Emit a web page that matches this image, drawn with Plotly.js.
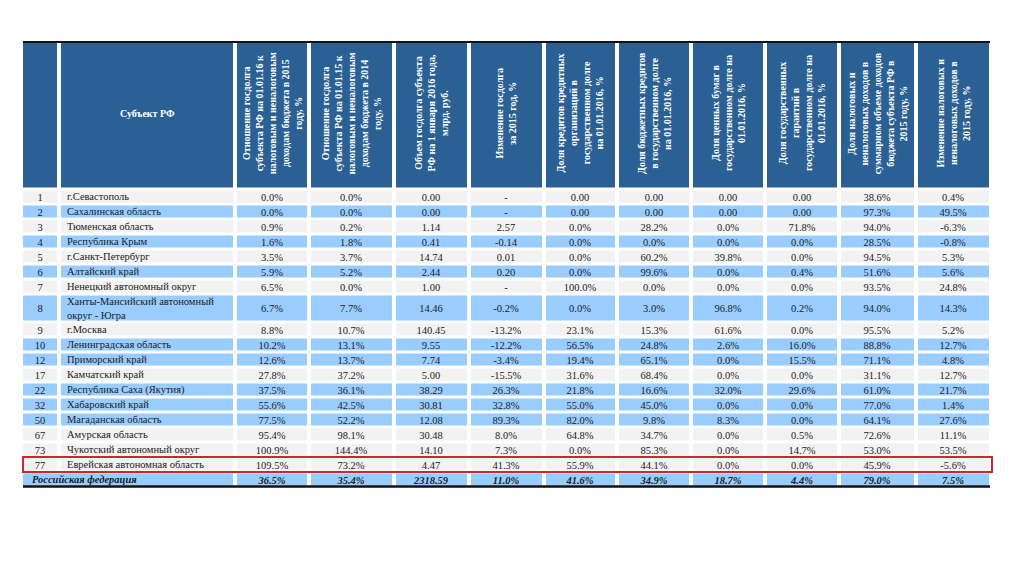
<!DOCTYPE html>
<html>
<head>
<meta charset="utf-8">
<script src="https://cdn.plot.ly/plotly-3.0.1.min.js"></script>
<style>html,body{margin:0;padding:0;background:#fff;}#chart{width:1024px;height:579px;}</style>
</head>
<body>
<div id="chart"></div>
<script>
// ---------- DATA ----------
const headers = [
  "",
  "Субъект РФ",
  "Отношение госдолга<br>субъекта РФ на 01.01.16 к<br>налоговым и неналоговым<br>доходам бюджета в 2015<br>году, %",
  "Отношение госдолга<br>субъекта РФ на 01.01.15 к<br>налоговым и неналоговым<br>доходам бюджета в 2014<br>году, %",
  "Объем госдолга субъекта<br>РФ на 1 января 2016 года,<br>млрд. руб.",
  "Изменение госдолга<br>за 2015 год, %",
  "Доля кредитов кредитных<br>организаций в<br>государственном долге<br>на 01.01.2016, %",
  "Доля бюджетных кредитов<br>в государственном долге<br>на 01.01.2016, %",
  "Доля ценных бумаг в<br>государственном долге на<br>01.01.2016, %",
  "Доля государственных<br>гарантий в<br>государственном долге на<br>01.01.2016, %",
  "Доля налоговых и<br>неналоговых доходов в<br>суммарном объеме доходов<br>бюджета субъекта РФ в<br>2015 году, %",
  "Изменение налоговых и<br>неналоговых доходов в<br>2015 году, %"
];

const ranks = ["1","2","3","4","5","6","7","8","9","10","12","17","22","32","50","67","73","77"];
const subjects = [
  "г.Севастополь","Сахалинская область","Тюменская область","Республика Крым","г.Санкт-Петербург",
  "Алтайский край","Ненецкий автономный округ","Ханты-Мансийский автономный<br>округ - Югра","г.Москва",
  "Ленинградская область","Приморский край","Камчатский край","Республика Саха (Якутия)",
  "Хабаровский край","Магаданская область","Амурская область","Чукотский автономный округ",
  "Еврейская автономная область"
];
const debtToIncome2015 = ["0.0%","0.0%","0.9%","1.6%","3.5%","5.9%","6.5%","6.7%","8.8%","10.2%","12.6%","27.8%","37.5%","55.6%","77.5%","95.4%","100.9%","109.5%"];
const debtToIncome2014 = ["0.0%","0.0%","0.2%","1.8%","3.7%","5.2%","0.0%","7.7%","10.7%","13.1%","13.7%","37.2%","36.1%","42.5%","52.2%","98.1%","144.4%","73.2%"];
const debtVolume = ["0.00","0.00","1.14","0.41","14.74","2.44","1.00","14.46","140.45","9.55","7.74","5.00","38.29","30.81","12.08","30.48","14.10","4.47"];
const debtChange = ["-","-","2.57","-0.14","0.01","0.20","-","-0.2%","-13.2%","-12.2%","-3.4%","-15.5%","26.3%","32.8%","89.3%","8.0%","7.3%","41.3%"];
const bankCreditShare = ["0.00","0.00","0.0%","0.0%","0.0%","0.0%","100.0%","0.0%","23.1%","56.5%","19.4%","31.6%","21.8%","55.0%","82.0%","64.8%","0.0%","55.9%"];
const budgetCreditShare = ["0.00","0.00","28.2%","0.0%","60.2%","99.6%","0.0%","3.0%","15.3%","24.8%","65.1%","68.4%","16.6%","45.0%","9.8%","34.7%","85.3%","44.1%"];
const securitiesShare = ["0.00","0.00","0.0%","0.0%","39.8%","0.0%","0.0%","96.8%","61.6%","2.6%","0.0%","0.0%","32.0%","0.0%","8.3%","0.0%","0.0%","0.0%"];
const guaranteesShare = ["0.00","0.00","71.8%","0.0%","0.0%","0.4%","0.0%","0.2%","0.0%","16.0%","15.5%","0.0%","29.6%","0.0%","0.0%","0.5%","14.7%","0.0%"];
const taxIncomeShare = ["38.6%","97.3%","94.0%","28.5%","94.5%","51.6%","93.5%","94.0%","95.5%","88.8%","71.1%","31.1%","61.0%","77.0%","64.1%","72.6%","53.0%","45.9%"];
const taxIncomeChange = ["0.4%","49.5%","-6.3%","-0.8%","5.3%","5.6%","24.8%","14.3%","5.2%","12.7%","4.8%","12.7%","21.7%","1.4%","27.6%","11.1%","53.5%","-5.6%"];

const totalLabel = "Российская федерация";
const totalValues = ["36.5%","35.4%","2318.59","11.0%","41.6%","34.9%","18.7%","4.4%","79.0%","7.5%"];

const highlightRank = "77";

// ---------- STYLE / LAYOUT ----------
const HEADER_BG = "#2A6093", BLUE = "#99CCFF", GRAY = "#F2F2F2";
const FONT = "Liberation Serif";
const BODY_SIZE = 10.5;
// row shading: 0 = gray, 1 = blue (body rows + total row)
const rowShade = [0,1,0,1,0,1,0,1,0,1,1,0,1,1,1,0,0,0,1];

const colEdges = [21,59,235,309,393.5,469,543.5,617,690.5,765,838.5,915.5,991];
const headerTop = 41.5, headerBottom = 189, lineH = 15, extraLine = 13;

const numCols = [debtToIncome2015, debtToIncome2014, debtVolume, debtChange, bankCreditShare,
                 budgetCreditShare, securitiesShare, guaranteesShare, taxIncomeShare, taxIncomeChange];
const nBody = ranks.length;
const nRows = nBody + 1; // + total
const nCols = colEdges.length - 1;

// row edges
const yEdges = [headerTop, headerBottom];
const rowCenters = [];
let yCur = headerBottom;
for (let r = 0; r < nRows; r++) {
  const label = r < nBody ? subjects[r] : totalLabel;
  const lines = label.split("<br>").length;
  const h = lineH + (lines - 1) * extraLine;
  rowCenters.push(yCur + h / 2);
  yCur += h;
  yEdges.push(yCur);
}
const tableBottom = yCur;

// z and text matrices
const z = [], text = [];
z.push(new Array(nCols).fill(2));
text.push(new Array(nCols).fill(""));
for (let r = 0; r < nRows; r++) {
  z.push(new Array(nCols).fill(rowShade[r]));
  const row = [];
  if (r < nBody) {
    row.push(ranks[r]);
    row.push("");
    numCols.forEach(c => row.push(c[r]));
  } else {
    row.push(""); row.push("");
    totalValues.forEach(v => row.push("<b><i>" + v + "</i></b>"));
  }
  text.push(row);
}

const trace = {
  type: "heatmap",
  x: colEdges,
  y: yEdges,
  z: z,
  zmin: 0, zmax: 2,
  colorscale: [[0, GRAY],[0.333, GRAY],[0.333, BLUE],[0.666, BLUE],[0.666, HEADER_BG],[1, HEADER_BG]],
  showscale: false,
  xgap: 4, ygap: 3,
  text: text,
  texttemplate: "%{text}",
  textfont: {family: FONT, size: BODY_SIZE, color: "#222"},
  hoverinfo: "skip"
};

const colCenter = i => (colEdges[i] + colEdges[i + 1]) / 2;
const headerMid = (headerTop + headerBottom) / 2 - 2;

const annotations = [];
// header texts
headers.forEach((h, i) => {
  if (!h) return;
  annotations.push({
    xref: "x", yref: "y", x: colCenter(i), y: headerMid,
    text: "<b>" + h + "</b>", showarrow: false,
    textangle: i === 1 ? 0 : -90,
    xanchor: "center", yanchor: "middle", align: "center",
    font: {family: FONT, size: 10, color: "#FFFFFF"}
  });
});
// subject names (left aligned)
subjects.forEach((s, r) => {
  annotations.push({
    xref: "x", yref: "y", x: colEdges[1] + 6, y: rowCenters[r],
    text: s, showarrow: false, xanchor: "left", yanchor: "middle", align: "left",
    font: {family: FONT, size: BODY_SIZE, color: "#222"}
  });
});
// total label
annotations.push({
  xref: "x", yref: "y", x: colEdges[0] + 9, y: rowCenters[nBody],
  text: "<b><i>" + totalLabel + "</i></b>", showarrow: false, xanchor: "left", yanchor: "middle",
  font: {family: FONT, size: BODY_SIZE, color: "#1a1a1a"}
});

const hiIdx = ranks.indexOf(highlightRank);
const shapes = [
  // merge total label cells
  {type: "rect", xref: "x", yref: "y", x0: colEdges[0] + 2, x1: colEdges[2] - 2,
   y0: yEdges[nBody + 1] + 1.5, y1: yEdges[nBody + 2] - 1.5, fillcolor: BLUE, line: {width: 0}, layer: "above"},
  // top black rule
  {type: "line", xref: "x", yref: "y", x0: colEdges[0] + 2, x1: colEdges[nCols] - 1, y0: headerTop + 0.5, y1: headerTop + 0.5,
   line: {color: "#111", width: 2}},
  // bottom black rule
  {type: "line", xref: "x", yref: "y", x0: colEdges[0] + 2, x1: colEdges[nCols] - 1, y0: tableBottom - 0.5, y1: tableBottom - 0.5,
   line: {color: "#111", width: 2.5}},
  // highlight box
  {type: "rect", xref: "x", yref: "y", x0: colEdges[0] + 2, x1: colEdges[nCols] + 1,
   y0: yEdges[hiIdx + 1], y1: yEdges[hiIdx + 2], fillcolor: "rgba(0,0,0,0)",
   line: {color: "#D0242E", width: 2}}
];

const layout = {
  width: 1024, height: 579,
  margin: {l: 0, r: 0, t: 0, b: 0},
  paper_bgcolor: "#FFFFFF", plot_bgcolor: "#FFFFFF",
  xaxis: {range: [0, 1024], visible: false, fixedrange: true},
  yaxis: {range: [579, 0], visible: false, fixedrange: true},
  annotations: annotations,
  shapes: shapes,
  showlegend: false
};

Plotly.newPlot("chart", [trace], layout, {staticPlot: true, displayModeBar: false});
</script>
</body>
</html>
